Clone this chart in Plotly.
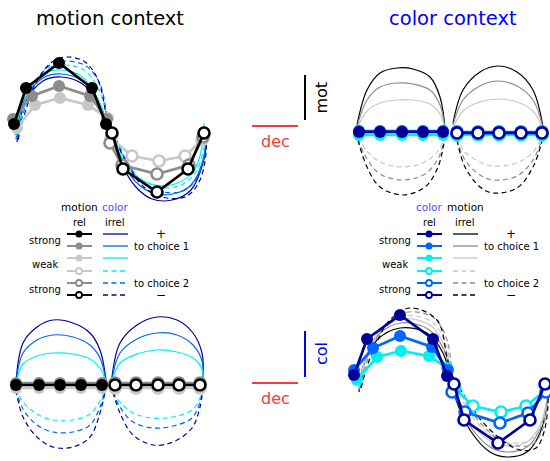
import plotly.graph_objects as go

W, H = 550, 461

# ---------------- colours / condition styles ----------------
NAVY, BLUE, CYAN = '#000099', '#0066ff', '#00f0f0'
BLACK, GRAY, LGRAY = '#000000', '#8c8c8c', '#c8c8c8'
RED = '#f03c3c'
MOT_COLORS = [BLACK, GRAY, LGRAY, LGRAY, GRAY, BLACK]   # strong+, mid+, weak+, weak-, mid-, strong-
COL_COLORS = [NAVY, BLUE, CYAN, CYAN, BLUE, NAVY]
FILLED = [True, True, True, False, False, False]
DASHED = [False, False, False, True, True, True]

# ---------------- data (arbitrary state-space units) ----------------
# Motion context: motion-relevant conditions (5 time points), dec / mot / col projections
mc_rel_dec_top = [[-3, -17, -50, -83, -95], [-2, -19, -50, -77, -96], [-1, -21, -49, -74, -92],
                  [2, 23, 50, 76, 93], [1, 13, 48, 80, 94], [3, 14, 48, 79, 95]]
mc_rel_mot = [[4, 40, 65, 40, 4], [9, 32, 42, 32, 9], [10, 23, 30, 23, 0],
              [-10, -28, -33, -28, -12], [-15, -37, -46, -37, -9], [-5, -41, -64, -41, -5]]
mc_rel_dec_bot = [[-7, -28, -49, -70, -93]] * 3 + [[6, 27, 49, 70, 91]] * 3
mc_rel_col = [[0] * 5, [2] * 5, [-3] * 5, [-3] * 5, [2] * 5, [0] * 5]

# Motion context: colour-irrelevant conditions split by choice (choice 1 = left, choice 2 = right)
mc_irr_dec_top_c1 = [[-92, -84, -66, -48, -28, -12, -3], [-93, -84, -66, -48, -28, -12, -3],
                     [-94, -84, -66, -48, -28, -12, -4], [-93, -80, -62, -45, -25, -10, -2],
                     [-92, -77, -59, -43, -23, -9, -2], [-91, -74, -57, -42, -24, -11, -2]]
mc_irr_mot_c1 = [[-14, 25, 47, 51, 45, 28, 6], [-11, 29, 50, 54, 48, 30, 7],
                 [-7, 33, 54, 58, 52, 31, 11], [-8, 36, 59, 63, 58, 38, 10],
                 [-10, 39, 63, 67, 62, 44, 8], [-12, 43, 66, 71, 66, 48, 6]]
mc_irr_dec_top_c2 = [[-1, 11, 26, 43, 63, 82, 94, 98], [-1, 11, 26, 44, 64, 82, 94, 97],
                     [-2, 9, 26, 46, 66, 84, 93, 95], [0, 12, 30, 50, 70, 86, 95, 96],
                     [1, 15, 34, 54, 74, 88, 96, 97], [1, 16, 36, 58, 78, 91, 97, 97]]
mc_irr_mot_c2 = [[10, -32, -58, -71, -72, -62, -35, -9], [10, -28, -53, -65, -66, -57, -32, -6],
                 [11, -22, -47, -57, -56, -44, -20, 5], [8, -24, -50, -59, -58, -45, -20, 0],
                 [5, -28, -55, -64, -63, -50, -25, -3], [3, -32, -60, -70, -68, -52, -25, -9]]
mc_irr_dec_bot_c1 = [[-93, -86, -72, -56, -36, -19, -9, -3]] * 6
mc_irr_col_c1 = [[3, 42, 58, 65, 62, 52, 35, 5], [2, 32, 45, 50, 48, 40, 27, 4],
                 [2, 21, 29, 32, 31, 26, 17, 3], [-3, -17, -29, -35, -35, -29, -16, -1],
                 [-4, -24, -40, -47, -47, -40, -22, -2], [-5, -32, -52, -62, -62, -52, -28, -2]]
mc_irr_dec_bot_c2 = [[3, 11, 28, 48, 68, 84, 93, 94]] * 3 + [[4, 11, 24, 44, 64, 83, 91, 94]] * 3
mc_irr_col_c2 = [[8, 42, 60, 68, 65, 52, 32, 5], [6, 32, 46, 52, 50, 40, 24, 4],
                 [4, 22, 31, 35, 33, 27, 16, 3], [-7, -17, -28, -33, -32, -25, -13, -2],
                 [-7, -22, -37, -43, -41, -33, -17, -2], [-7, -28, -50, -60, -57, -43, -22, -2]]

# Colour context: colour-relevant conditions
cc_rel_dec_top = [[-7, -27, -48, -70, -91]] * 3 + [[7, 28, 49, 71, 92]] * 3
cc_rel_mot = [[0] * 5, [1] * 5, [-3] * 5, [-3] * 5, [0] * 5, [-1] * 5]
cc_rel_dec_bot = [[-3, -17, -50, -83, -96], [-2, -18, -50, -77, -96], [-3, -21, -49, -73, -93],
                  [5, 23, 51, 76, 97], [2, 15, 50, 78, 96], [4, 14, 48, 80, 95]]
cc_rel_col = [[4, 41, 65, 41, 5], [10, 33, 44, 32, 10], [12, 24, 29, 23, 0],
              [-8, -26, -32, -26, -9], [-12, -32, -43, -33, -12], [-4, -40, -63, -40, -4]]

# Colour context: motion-irrelevant conditions split by choice
cc_irr_dec_top_c1 = [[-93, -83, -70, -53, -37, -20, -10, -5]] * 3 + [[-92, -83, -70, -47, -25, -12, -5]] * 3
cc_irr_mot_c1 = [[7, 42, 59, 64, 63, 55, 35, 4], [5, 32, 45, 49, 48, 42, 27, 3],
                 [3, 21, 29, 32, 32, 28, 18, 2], [-5, -19, -30, -35, -30, -19, -3],
                 [-7, -27, -42, -48, -42, -27, -4], [-8, -35, -55, -63, -55, -35, -5]]
cc_irr_dec_top_c2 = [[3, 13, 30, 48, 67, 83, 93]] * 3 + [[7, 15, 30, 43, 67, 83, 93]] * 3
cc_irr_mot_c2 = [[9, 42, 60, 66, 60, 42, 5], [7, 32, 46, 51, 46, 32, 4],
                 [4, 21, 30, 33, 30, 21, 3], [-5, -20, -30, -34, -31, -20, -3],
                 [-7, -28, -43, -48, -44, -28, -4], [-8, -35, -55, -61, -56, -35, -5]]
cc_irr_dec_bot_c1 = [[-91, -87, -73, -50, -23, -7, 0], [-91, -86, -72, -49, -22, -6, 0],
                     [-91, -85, -70, -47, -20, -5, 1], [-90, -83, -67, -45, -18, -4, 1],
                     [-90, -81, -64, -42, -16, -3, 2], [-89, -78, -60, -40, -13, -3, 2]]
cc_irr_col_c1 = [[-12, 13, 40, 52, 47, 27, 3], [-10, 17, 45, 57, 51, 30, 4],
                 [-9, 20, 49, 61, 55, 33, 5], [-8, 22, 52, 64, 58, 36, 5],
                 [-8, 24, 56, 68, 62, 40, 4], [-8, 27, 60, 72, 60, 23, 3]]
cc_irr_dec_bot_c2 = [[-3, 5, 20, 40, 57, 77, 90, 97, 98]] * 3 + [[-1, 8, 25, 45, 62, 80, 92, 97, 98],
                     [0, 10, 28, 48, 66, 83, 93, 97, 98], [1, 12, 31, 52, 70, 86, 94, 98, 98]]
cc_irr_col_c2 = [[13, -17, -50, -72, -77, -72, -53, -23, -3], [12, -15, -46, -67, -72, -67, -49, -21, -3],
                 [10, -13, -42, -61, -66, -62, -45, -19, -2], [9, -12, -40, -58, -63, -60, -44, -19, -2],
                 [8, -12, -40, -59, -66, -64, -48, -22, -3], [7, -12, -40, -60, -70, -68, -52, -25, -4]]

# legend texts
row_labels = ['strong', 'weak', 'strong']
dir_labels = ['+', 'to choice 1', 'to choice 2', '\u2212']

# ---------------- layout helpers ----------------
def py(y):  # pixel y -> paper
    return 1 - y / H

fig = go.Figure()

# panel boxes (pixels) and centres (pixels)
panels = {
    1: dict(box=(0, 225, 40, 215), c=(109, 128)),
    2: dict(box=(340, 550, 40, 215), c=(450, 132)),
    3: dict(box=(0, 225, 300, 461), c=(109, 385)),
    4: dict(box=(340, 550, 295, 461), c=(450, 380)),
}
for i, p in panels.items():
    x0, x1, y0, y1 = p['box']
    cx, cy = p['c']
    xs = '' if i == 1 else str(i)
    fig.layout['xaxis' + xs] = dict(domain=[x0 / W, x1 / W], range=[x0 - cx, x1 - cx], visible=False,
                                    fixedrange=True, anchor='y' + xs)
    fig.layout['yaxis' + xs] = dict(domain=[py(y1), py(y0)], range=[cy - y1, cy - y0], visible=False,
                                    fixedrange=True, anchor='x' + xs)
fig.layout['xaxis5'] = dict(domain=[0, 1], range=[0, W], visible=False, fixedrange=True, anchor='y5')
fig.layout['yaxis5'] = dict(domain=[0, 1], range=[H, 0], visible=False, fixedrange=True, anchor='x5')

DASH = '5px,3.5px'


def add_panel(i, rel_dec, rel_y, rel_colors, irr_sets, irr_colors):
    xs = '' if i == 1 else str(i)
    xa, ya = 'x' + xs, 'y' + xs
    for dec_set, y_set in irr_sets:
        for k in range(6):
            fig.add_trace(go.Scatter(
                x=dec_set[k], y=y_set[k], mode='lines', xaxis=xa, yaxis=ya,
                line=dict(color=irr_colors[k], width=1.2, dash=DASH if DASHED[k] else 'solid',
                          shape='spline', smoothing=1.0),
                showlegend=False, hoverinfo='skip', cliponaxis=False))
    for k in [2, 3, 1, 4, 0, 5]:
        c = rel_colors[k]
        fig.add_trace(go.Scatter(
            x=rel_dec[k], y=rel_y[k], mode='lines+markers', xaxis=xa, yaxis=ya,
            line=dict(color=c, width=2.7),
            marker=dict(size=12 if FILLED[k] else 11, color=c if FILLED[k] else 'white',
                        line=dict(color=c, width=0 if FILLED[k] else 2.6)),
            showlegend=False, hoverinfo='skip', cliponaxis=False))


add_panel(1, mc_rel_dec_top, mc_rel_mot, MOT_COLORS,
          [(mc_irr_dec_top_c1, mc_irr_mot_c1), (mc_irr_dec_top_c2, mc_irr_mot_c2)], COL_COLORS)
add_panel(3, mc_rel_dec_bot, mc_rel_col, MOT_COLORS,
          [(mc_irr_dec_bot_c1, mc_irr_col_c1), (mc_irr_dec_bot_c2, mc_irr_col_c2)], COL_COLORS)
add_panel(2, cc_rel_dec_top, cc_rel_mot, COL_COLORS,
          [(cc_irr_dec_top_c1, cc_irr_mot_c1), (cc_irr_dec_top_c2, cc_irr_mot_c2)], MOT_COLORS)
add_panel(4, cc_rel_dec_bot, cc_rel_col, COL_COLORS,
          [(cc_irr_dec_bot_c1, cc_irr_col_c1), (cc_irr_dec_bot_c2, cc_irr_col_c2)], MOT_COLORS)

# ---------------- legends (pixel overlay axis) ----------------
FONT = 'DejaVu Sans'
annotations = []


def txt(x, y, s, size=10, color='black', angle=0):
    annotations.append(dict(x=x, y=y, xref='x5', yref='y5', text=s, showarrow=False,
                            font=dict(family=FONT, size=size, color=color), textangle=angle,
                            xanchor='center', yanchor='middle'))


rows_y = [234, 246, 258, 271, 283, 295]
for off, rel_cols, irr_cols, hdr in [(0, MOT_COLORS, COL_COLORS, (('motion', 'black'), ('color', '#4d4dff'))),
                                     (350, COL_COLORS, MOT_COLORS, (('color', '#4d4dff'), ('motion', 'black')))]:
    txt(79 + off, 207, hdr[0][0], 10.5, hdr[0][1])
    txt(115 + off, 207, hdr[1][0], 10.5, hdr[1][1])
    txt(79 + off, 222, 'rel', 10)
    txt(115 + off, 222, 'irrel', 10)
    for lab, yy in zip(row_labels, [240, 264, 289]):
        txt(45 + off, yy, lab, 10)
    txt(161 + off, 234, dir_labels[0], 12)
    txt(161 + off, 246, dir_labels[1], 10)
    txt(161 + off, 283, dir_labels[2], 10)
    txt(161 + off, 295, dir_labels[3], 12)
    for k, yy in enumerate(rows_y):
        c = rel_cols[k]
        fig.add_trace(go.Scatter(x=[67 + off, 92 + off], y=[yy, yy], mode='lines', xaxis='x5', yaxis='y5',
                                 line=dict(color=c, width=2), showlegend=False, hoverinfo='skip'))
        fig.add_trace(go.Scatter(x=[79 + off], y=[yy], mode='markers', xaxis='x5', yaxis='y5',
                                 marker=dict(size=7 if FILLED[k] else 6, color=c if FILLED[k] else 'white',
                                             line=dict(color=c, width=0 if FILLED[k] else 1.8)),
                                 showlegend=False, hoverinfo='skip'))
        fig.add_trace(go.Scatter(x=[103 + off, 128 + off], y=[yy, yy], mode='lines', xaxis='x5', yaxis='y5',
                                 line=dict(color=irr_cols[k], width=1.3, dash=DASH if DASHED[k] else 'solid'),
                                 showlegend=False, hoverinfo='skip'))

# titles
txt(110, 18, 'motion context', 19.5, 'black')
txt(453, 18, 'color context', 19.5, '#0000ff')

# scale bars
shapes = []
for (vy0, vy1, vcol, vlab, hy, dy) in [(75, 120, 'black', 'mot', 126, 141), (331, 377, '#0000ff', 'col', 383, 398)]:
    shapes.append(dict(type='line', xref='x5', yref='y5', x0=305, x1=305, y0=vy0, y1=vy1,
                       line=dict(color=vcol, width=2)))
    shapes.append(dict(type='line', xref='x5', yref='y5', x0=252, x1=298, y0=hy, y1=hy,
                       line=dict(color=RED, width=2)))
    txt(321, (vy0 + vy1) / 2, vlab, 16, vcol, -90)
    txt(275, dy, 'dec', 16, RED)

fig.update_layout(width=W, height=H, margin=dict(l=0, r=0, t=0, b=0),
                  paper_bgcolor='white', plot_bgcolor='rgba(0,0,0,0)',
                  annotations=annotations, shapes=shapes, showlegend=False)

fig.write_html('out.html', config={'displayModeBar': False})
